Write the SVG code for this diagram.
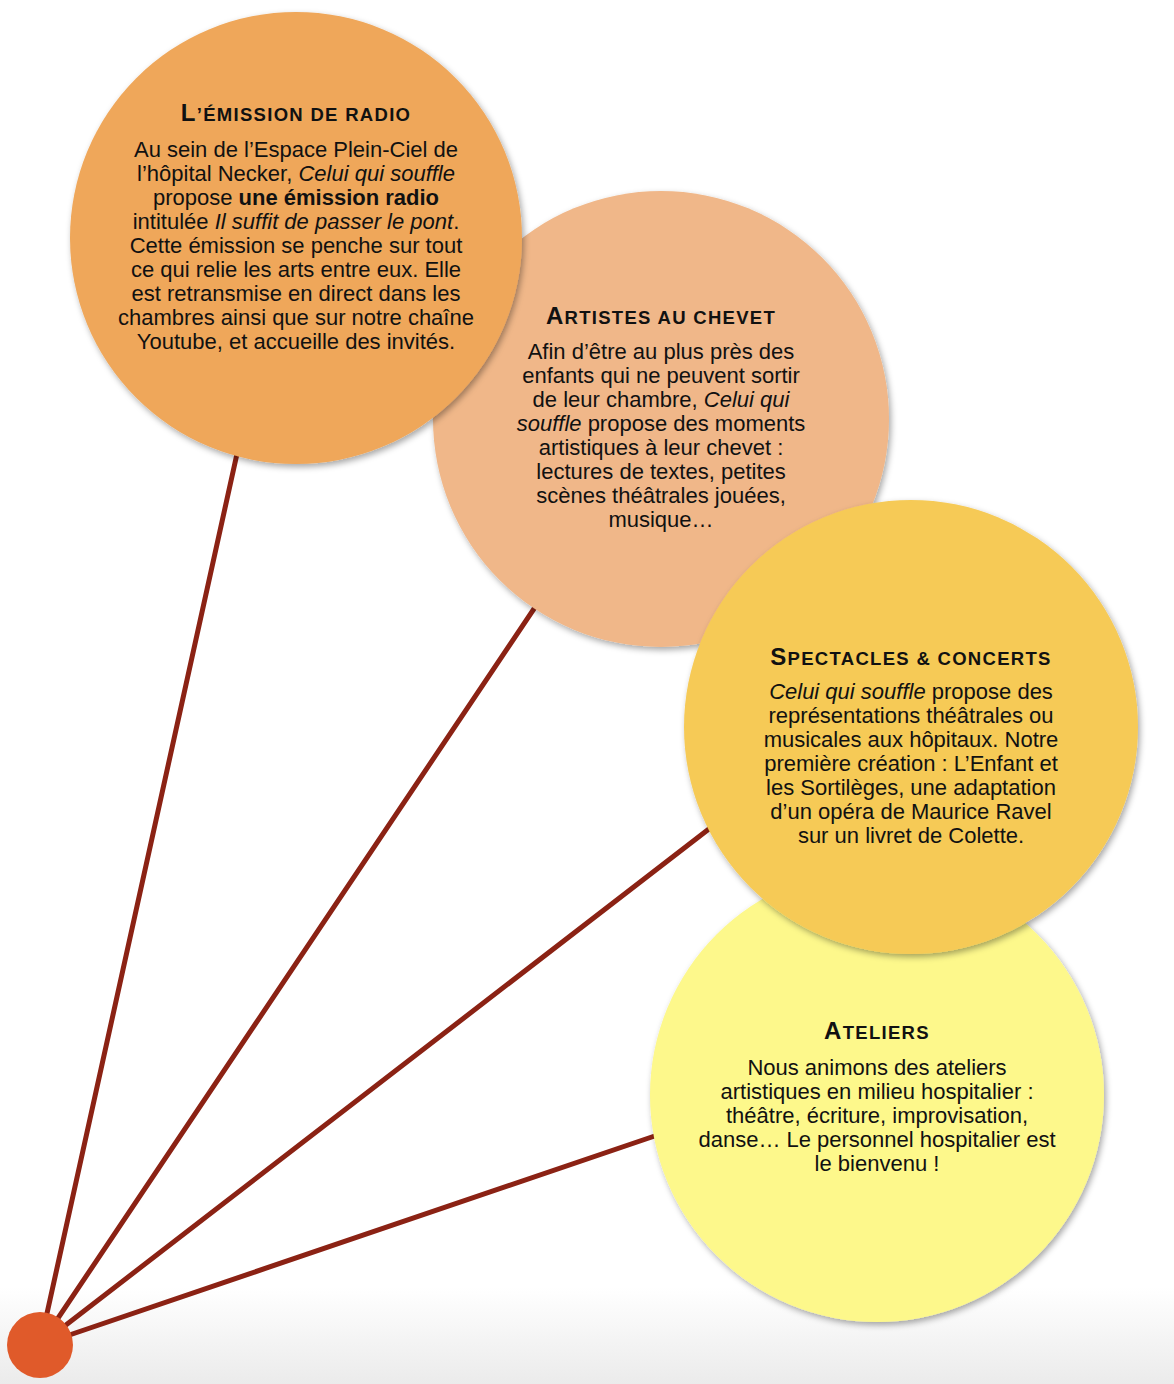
<svg xmlns="http://www.w3.org/2000/svg" width="1174" height="1384" viewBox="0 0 1174 1384">
<defs>
<linearGradient id="bg" x1="0" y1="0" x2="0" y2="1">
<stop offset="0" stop-color="#ffffff"/>
<stop offset="0.93" stop-color="#ffffff"/>
<stop offset="1" stop-color="#ebebeb"/>
</linearGradient>
<filter id="sh" x="-10%" y="-10%" width="125%" height="125%">
<feDropShadow dx="2" dy="3" stdDeviation="3" flood-color="#000" flood-opacity="0.35"/>
</filter>
</defs>
<style>
.t{font-family:"Liberation Sans",Arial,sans-serif;font-size:22px;fill:#111;text-anchor:middle}
.h{font-family:"Liberation Sans",Arial,sans-serif;font-weight:bold;fill:#111;text-anchor:middle;letter-spacing:1.3px}
.b1{font-size:24px}
.b2{font-size:18.5px}
.i{font-style:italic}
.bd{font-weight:bold}
.con{stroke:#8b2214;stroke-width:5;fill:none;stroke-linecap:round}
</style>
<rect width="1174" height="1384" fill="url(#bg)"/>
<g id="connectors">
<line class="con" x1="40" y1="1345" x2="250" y2="395"/>
<line class="con" x1="40" y1="1345" x2="560" y2="570"/>
<line class="con" x1="40" y1="1345" x2="740" y2="805"/>
<line class="con" x1="40" y1="1345" x2="690" y2="1124"/>
</g>
<g id="ateliers">
<circle cx="877" cy="1095" r="227" fill="#fdf88b" filter="url(#sh)"/>
<text class="h" x="877" y="1039"><tspan class="b1">A</tspan><tspan class="b2">TELIERS</tspan></text>
<text class="t" x="877" y="1075">Nous animons des ateliers</text>
<text class="t" x="877" y="1099">artistiques en milieu hospitalier :</text>
<text class="t" x="877" y="1123">théâtre, écriture, improvisation,</text>
<text class="t" x="877" y="1147">danse… Le personnel hospitalier est</text>
<text class="t" x="877" y="1171">le bienvenu !</text>
</g>
<g id="artistes">
<circle cx="661" cy="419" r="228" fill="#f0b789" filter="url(#sh)"/>
<text class="h" x="661" y="324"><tspan class="b1">A</tspan><tspan class="b2">RTISTES AU CHEVET</tspan></text>
<text class="t" x="661" y="359">Afin d’être au plus près des</text>
<text class="t" x="661" y="383">enfants qui ne peuvent sortir</text>
<text class="t" x="661" y="407">de leur chambre, <tspan class="i">Celui qui</tspan></text>
<text class="t" x="661" y="431"><tspan class="i">souffle</tspan> propose des moments</text>
<text class="t" x="661" y="455">artistiques à leur chevet :</text>
<text class="t" x="661" y="479">lectures de textes, petites</text>
<text class="t" x="661" y="503">scènes théâtrales jouées,</text>
<text class="t" x="661" y="527">musique…</text>
</g>
<g id="radio">
<circle cx="296" cy="238" r="226" fill="#efa75a" filter="url(#sh)"/>
<text class="h" x="296" y="121"><tspan class="b1">L</tspan><tspan class="b2">’ÉMISSION DE RADIO</tspan></text>
<text class="t" x="296" y="157">Au sein de l’Espace Plein-Ciel de</text>
<text class="t" x="296" y="181">l’hôpital Necker, <tspan class="i">Celui qui souffle</tspan></text>
<text class="t" x="296" y="205">propose <tspan class="bd">une émission radio</tspan></text>
<text class="t" x="296" y="229">intitulée <tspan class="i">Il suffit de passer le pont</tspan>.</text>
<text class="t" x="296" y="253">Cette émission se penche sur tout</text>
<text class="t" x="296" y="277">ce qui relie les arts entre eux. Elle</text>
<text class="t" x="296" y="301">est retransmise en direct dans les</text>
<text class="t" x="296" y="325">chambres ainsi que sur notre chaîne</text>
<text class="t" x="296" y="349">Youtube, et accueille des invités.</text>
</g>
<g id="spectacles">
<circle cx="911" cy="727" r="227" fill="#f6ca57" filter="url(#sh)"/>
<text class="h" x="911" y="665"><tspan class="b1">S</tspan><tspan class="b2">PECTACLES &amp; CONCERTS</tspan></text>
<text class="t" x="911" y="699"><tspan class="i">Celui qui souffle</tspan> propose des</text>
<text class="t" x="911" y="723">représentations théâtrales ou</text>
<text class="t" x="911" y="747">musicales aux hôpitaux. Notre</text>
<text class="t" x="911" y="771">première création : L’Enfant et</text>
<text class="t" x="911" y="795">les Sortilèges, une adaptation</text>
<text class="t" x="911" y="819">d’un opéra de Maurice Ravel</text>
<text class="t" x="911" y="843">sur un livret de Colette.</text>
</g>
<g id="hub">
<circle cx="40" cy="1345" r="33" fill="#e05a2a"/>
</g>
</svg>
